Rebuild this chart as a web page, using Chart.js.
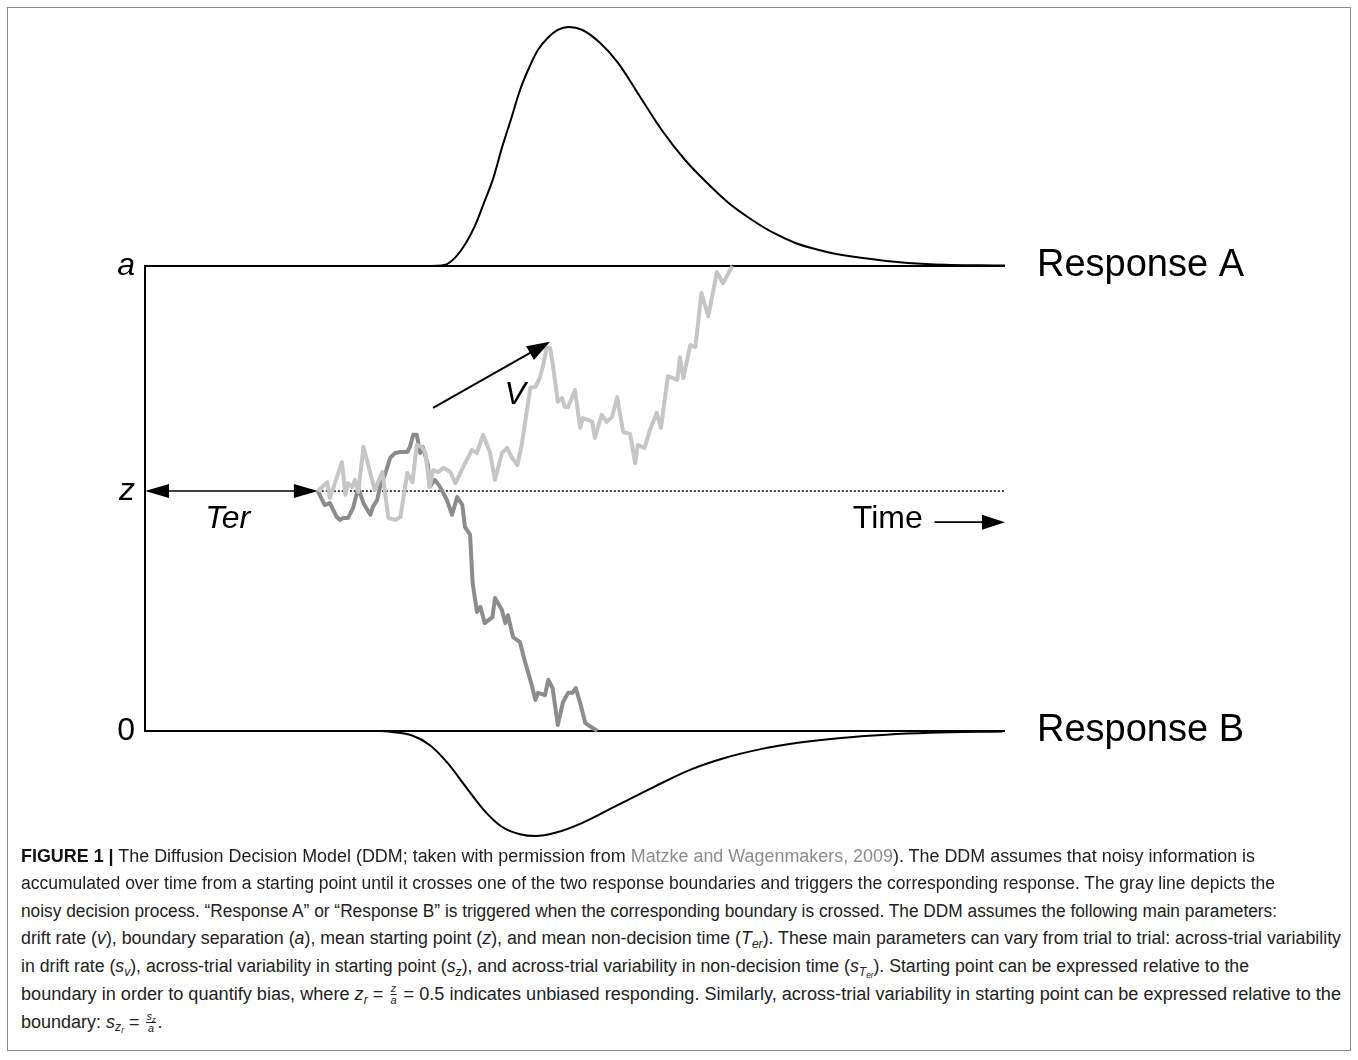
<!DOCTYPE html>
<html>
<head>
<meta charset="utf-8">
<script src="https://cdn.jsdelivr.net/npm/chart.js@4.4.1/dist/chart.umd.min.js"></script>
<style>
  body { margin: 0; background: #fff; }
  #frame { position: absolute; left: 7px; top: 7px; width: 1342px; height: 1042px; border: 1px solid #8a8a8a; }
  #wrap { position: absolute; left: 0; top: 0; width: 1358px; height: 860px; }
  .ln { position: absolute; left: 21px; white-space: nowrap; font-family: "Liberation Sans", Arial, sans-serif;
        font-size: 18px; line-height: 20px; color: #222; transform-origin: 0 50%; }
  .ln b { color: #111; }
  .ref { color: #8c8c8c; }
  sub { font-size: 68%; vertical-align: -0.3em; line-height: 0; }
  .frac { display: inline-block; vertical-align: middle; text-align: center; font-size: 60%; line-height: 1.05; margin: 0 2px; }
  .frac i { display: block; }
  .frac i:first-child { border-bottom: 1px solid #222; }
</style>
</head>
<body>
<div id="frame"></div>
<div id="wrap"><canvas id="ddm" width="1358" height="860"></canvas></div>

<div class="ln" data-w="1234" data-y="856"><b>FIGURE 1 |</b> The Diffusion Decision Model (DDM; taken with permission from <span class="ref">Matzke and Wagenmakers, 2009</span>). The DDM assumes that noisy information is</div>
<div class="ln" data-w="1254" data-y="883">accumulated over time from a starting point until it crosses one of the two response boundaries and triggers the corresponding response. The gray line depicts the</div>
<div class="ln" data-w="1256" data-y="911">noisy decision process. “Response A” or “Response B” is triggered when the corresponding boundary is crossed. The DDM assumes the following main parameters:</div>
<div class="ln" data-w="1320" data-y="938">drift rate (<i>v</i>), boundary separation (<i>a</i>), mean starting point (<i>z</i>), and mean non-decision time (<i>T<sub>er</sub></i>). These main parameters can vary from trial to trial: across-trial variability</div>
<div class="ln" data-w="1228" data-y="966">in drift rate (<i>s<sub>v</sub></i>), across-trial variability in starting point (<i>s<sub>z</sub></i>), and across-trial variability in non-decision time (<i>s<sub>T<sub>er</sub></sub></i>). Starting point can be expressed relative to the</div>
<div class="ln" data-w="1320" data-y="993">boundary in order to quantify bias, where <i>z<sub>r</sub></i> = <span class="frac"><i>z</i><i>a</i></span> = 0.5 indicates unbiased responding. Similarly, across-trial variability in starting point can be expressed relative to the</div>
<div class="ln" data-y="1021">boundary: <i>s<sub>z<sub>r</sub></sub></i> = <span class="frac"><i>s<sub>z</sub></i><i>a</i></span>.</div>

<script>
// model parameters (time in ms, evidence scaled so that a = 1)
const boundA = 1;
const boundB = 0;
const zStart = 0.516;
const ter = 201;
const tEnd = 1000;

const leftTickValues = [0, zStart, boundA];
const leftTickLabels = ["0", "z", "a"];
const rightTickValues = [boundB, boundA];
const rightTickLabels = ["Response B", "Response A"];

// gray walk that ends at the upper boundary
const walkA_t = [201,212,215,229,233,236,241,244,248,254,
                 259,267,276,283,291,297,305,311,316,322,
                 326,331,335,341,347,355,361,370,380,386,
                 393,401,407,415,421,427,433,438,448,454,
                 459,463,467,471,474,480,485,488,492,500,
                 506,509,515,520,523,531,537,543,549,556,
                 564,570,573,581,587,595,600,608,619,622,
                 626,634,640,647,655,665,672,683];
const walkA_v = [0.516,0.535,0.501,0.578,0.508,0.533,0.525,0.540,0.514,0.611,
                 0.576,0.518,0.557,0.458,0.454,0.460,0.555,0.535,0.615,0.611,
                 0.598,0.525,0.561,0.557,0.566,0.557,0.533,0.568,0.604,0.598,
                 0.637,0.600,0.540,0.598,0.609,0.587,0.572,0.615,0.738,0.740,
                 0.759,0.787,0.824,0.824,0.791,0.708,0.716,0.697,0.697,0.733,
                 0.652,0.673,0.669,0.665,0.630,0.680,0.665,0.675,0.718,0.643,
                 0.639,0.576,0.615,0.609,0.647,0.684,0.652,0.763,0.755,0.804,
                 0.759,0.830,0.826,0.942,0.892,0.987,0.963,1.000];

// darker walk that ends at the lower boundary
const walkB_t = [201,209,215,223,227,230,236,242,248,254,
                 262,265,270,273,279,285,291,297,305,308,
                 312,316,320,323,329,331,337,343,351,357,
                 363,369,372,378,381,386,390,395,404,407,
                 415,419,422,428,436,442,448,454,457,465,
                 469,474,480,486,492,497,501,506,512,521,
                 526];
const walkB_v = [0.516,0.486,0.490,0.460,0.454,0.458,0.458,0.480,0.523,0.490,
                 0.465,0.482,0.497,0.523,0.551,0.587,0.598,0.600,0.600,0.611,
                 0.637,0.637,0.598,0.611,0.572,0.525,0.540,0.525,0.497,0.465,
                 0.503,0.486,0.439,0.422,0.318,0.256,0.267,0.232,0.245,0.286,
                 0.260,0.232,0.249,0.202,0.191,0.148,0.110,0.067,0.082,0.077,
                 0.110,0.092,0.013,0.062,0.082,0.082,0.092,0.060,0.017,0.006,
                 0.000];

// RT densities, height above / below the boundary
const densA_t = [293,331,348,360,373,384,394,405,415,426,436,447,457,469,480,493,
                 508,529,550,576,601,628,654,679,706,731,757,785,809,862,913,1000];
const densA_h = [0,0,0.002,0.017,0.049,0.088,0.135,0.189,0.254,0.318,0.378,0.428,0.465,0.492,0.508,0.514,
                 0.508,0.480,0.437,0.363,0.292,0.228,0.178,0.135,0.099,0.071,0.049,0.034,0.024,0.011,0.004,0.001];
const densB_t = [273,287,310,331,352,373,394,415,436,454,477,508,550,592,633,674,716,757,809,862,913,997];
const densB_h = [0,0.002,0.009,0.030,0.069,0.120,0.170,0.206,0.222,0.226,0.219,0.198,0.159,0.120,0.084,0.058,0.039,0.026,0.015,0.008,0.004,0.001];

const pts = (ts, vs) => ts.map((t, i) => ({ x: t, y: vs[i] }));

const base = { showLine: true, pointRadius: 0, clip: false, fill: false };

const datasets = [
  { ...base, data: pts(walkA_t, walkA_v), borderColor: "#c6c6c6", borderWidth: 4, borderJoinStyle: "round" },
  { ...base, data: pts(walkB_t, walkB_v), borderColor: "#8c8c8c", borderWidth: 4, borderJoinStyle: "round" },
  { ...base, data: densA_t.map((t, i) => ({ x: t, y: boundA + densA_h[i] })), borderColor: "#000", borderWidth: 2, cubicInterpolationMode: "monotone" },
  { ...base, data: densB_t.map((t, i) => ({ x: t, y: boundB - densB_h[i] })), borderColor: "#000", borderWidth: 2, cubicInterpolationMode: "monotone" },
  { ...base, data: [{ x: 0, y: boundA }, { x: tEnd, y: boundA }], borderColor: "#000", borderWidth: 2 },
  { ...base, data: [{ x: 0, y: boundB }, { x: tEnd, y: boundB }], borderColor: "#000", borderWidth: 2 },
  { ...base, data: [{ x: ter, y: zStart }, { x: tEnd, y: zStart }], borderColor: "#000", borderWidth: 1.5, borderDash: [2, 2] }
];

// arrows and free labels, in data units
function head(ctx, x1, y1, x2, y2, len, half) {
  const a = Math.atan2(y2 - y1, x2 - x1);
  ctx.beginPath();
  ctx.moveTo(x2, y2);
  ctx.lineTo(x2 - len * Math.cos(a) + half * Math.sin(a), y2 - len * Math.sin(a) - half * Math.cos(a));
  ctx.lineTo(x2 - len * Math.cos(a) - half * Math.sin(a), y2 - len * Math.sin(a) + half * Math.cos(a));
  ctx.closePath();
  ctx.fill();
}

const annot = {
  id: "annot",
  afterDatasetsDraw(chart) {
    const { ctx, scales: { x, y } } = chart;
    const px = t => x.getPixelForValue(t);
    const py = v => y.getPixelForValue(v);
    ctx.save();
    ctx.strokeStyle = "#000";
    ctx.fillStyle = "#000";
    ctx.lineWidth = 1.6;

    // Ter (double headed)
    const zy = py(zStart);
    ctx.beginPath(); ctx.moveTo(px(0) + 10, zy); ctx.lineTo(px(ter) - 10, zy); ctx.stroke();
    head(ctx, px(ter), zy, px(0), zy, 24, 7);
    head(ctx, px(0), zy, px(ter), zy, 24, 7);

    // drift arrow
    const v1 = [px(335), py(0.695)], v2 = [px(471), py(0.837)];
    ctx.lineWidth = 2;
    ctx.beginPath(); ctx.moveTo(v1[0], v1[1]); ctx.lineTo(v2[0] - 12, v2[1] + 6.5); ctx.stroke();
    head(ctx, v1[0], v1[1], v2[0], v2[1], 23, 8);

    // time arrow
    const ty = py(0.449);
    ctx.lineWidth = 1.8;
    ctx.beginPath(); ctx.moveTo(px(918), ty); ctx.lineTo(px(985), ty); ctx.stroke();
    head(ctx, px(918), ty, px(1000), ty, 23, 7.5);

    ctx.textBaseline = "middle";
    ctx.textAlign = "left";
    ctx.font = "italic 32px 'Liberation Sans', Arial, sans-serif";
    ctx.fillText("Ter", px(70), py(0.456));
    ctx.fillText("V", px(418), py(0.723));
    ctx.font = "32px 'Liberation Sans', Arial, sans-serif";
    ctx.fillText("Time", px(823), py(0.456));
    ctx.restore();
  }
};

new Chart(document.getElementById("ddm"), {
  type: "scatter",
  data: { datasets },
  options: {
    responsive: false,
    animation: false,
    layout: { padding: { top: 266, bottom: 129, left: 0, right: 0 } },
    plugins: { legend: { display: false }, tooltip: { enabled: false } },
    scales: {
      x: { type: "linear", min: 0, max: tEnd, display: false },
      y: {
        type: "linear", position: "left", min: 0, max: 1,
        grid: { display: false, drawTicks: false },
        border: { display: true, color: "#000", width: 2 },
        afterFit: s => { s.width = 145; },
        afterBuildTicks: s => { s.ticks = leftTickValues.map(v => ({ value: v })); },
        ticks: {
          autoSkip: false, padding: 10, color: "#000",
          callback: (v, i) => leftTickLabels[i],
          font: c => ({ family: "'Liberation Sans', Arial, sans-serif", size: 32, style: c.index === 0 ? "normal" : "italic" })
        }
      },
      y2: {
        type: "linear", position: "right", min: 0, max: 1,
        grid: { display: false, drawTicks: false },
        border: { display: false },
        afterFit: s => { s.width = 353; },
        afterBuildTicks: s => { s.ticks = rightTickValues.map(v => ({ value: v })); },
        ticks: {
          autoSkip: false, padding: 32, color: "#000",
          callback: (v, i) => rightTickLabels[i],
          font: { family: "'Liberation Sans', Arial, sans-serif", size: 38 }
        }
      }
    }
  },
  plugins: [annot]
});

// caption lines: place and stretch to the widths of the original
document.querySelectorAll(".ln").forEach(el => {
  el.style.top = (+el.dataset.y - 10) + "px";
  if (el.dataset.w) {
    const w = el.getBoundingClientRect().width;
    el.style.transform = "scaleX(" + (+el.dataset.w / w).toFixed(4) + ")";
  }
});
</script>
</body>
</html>
